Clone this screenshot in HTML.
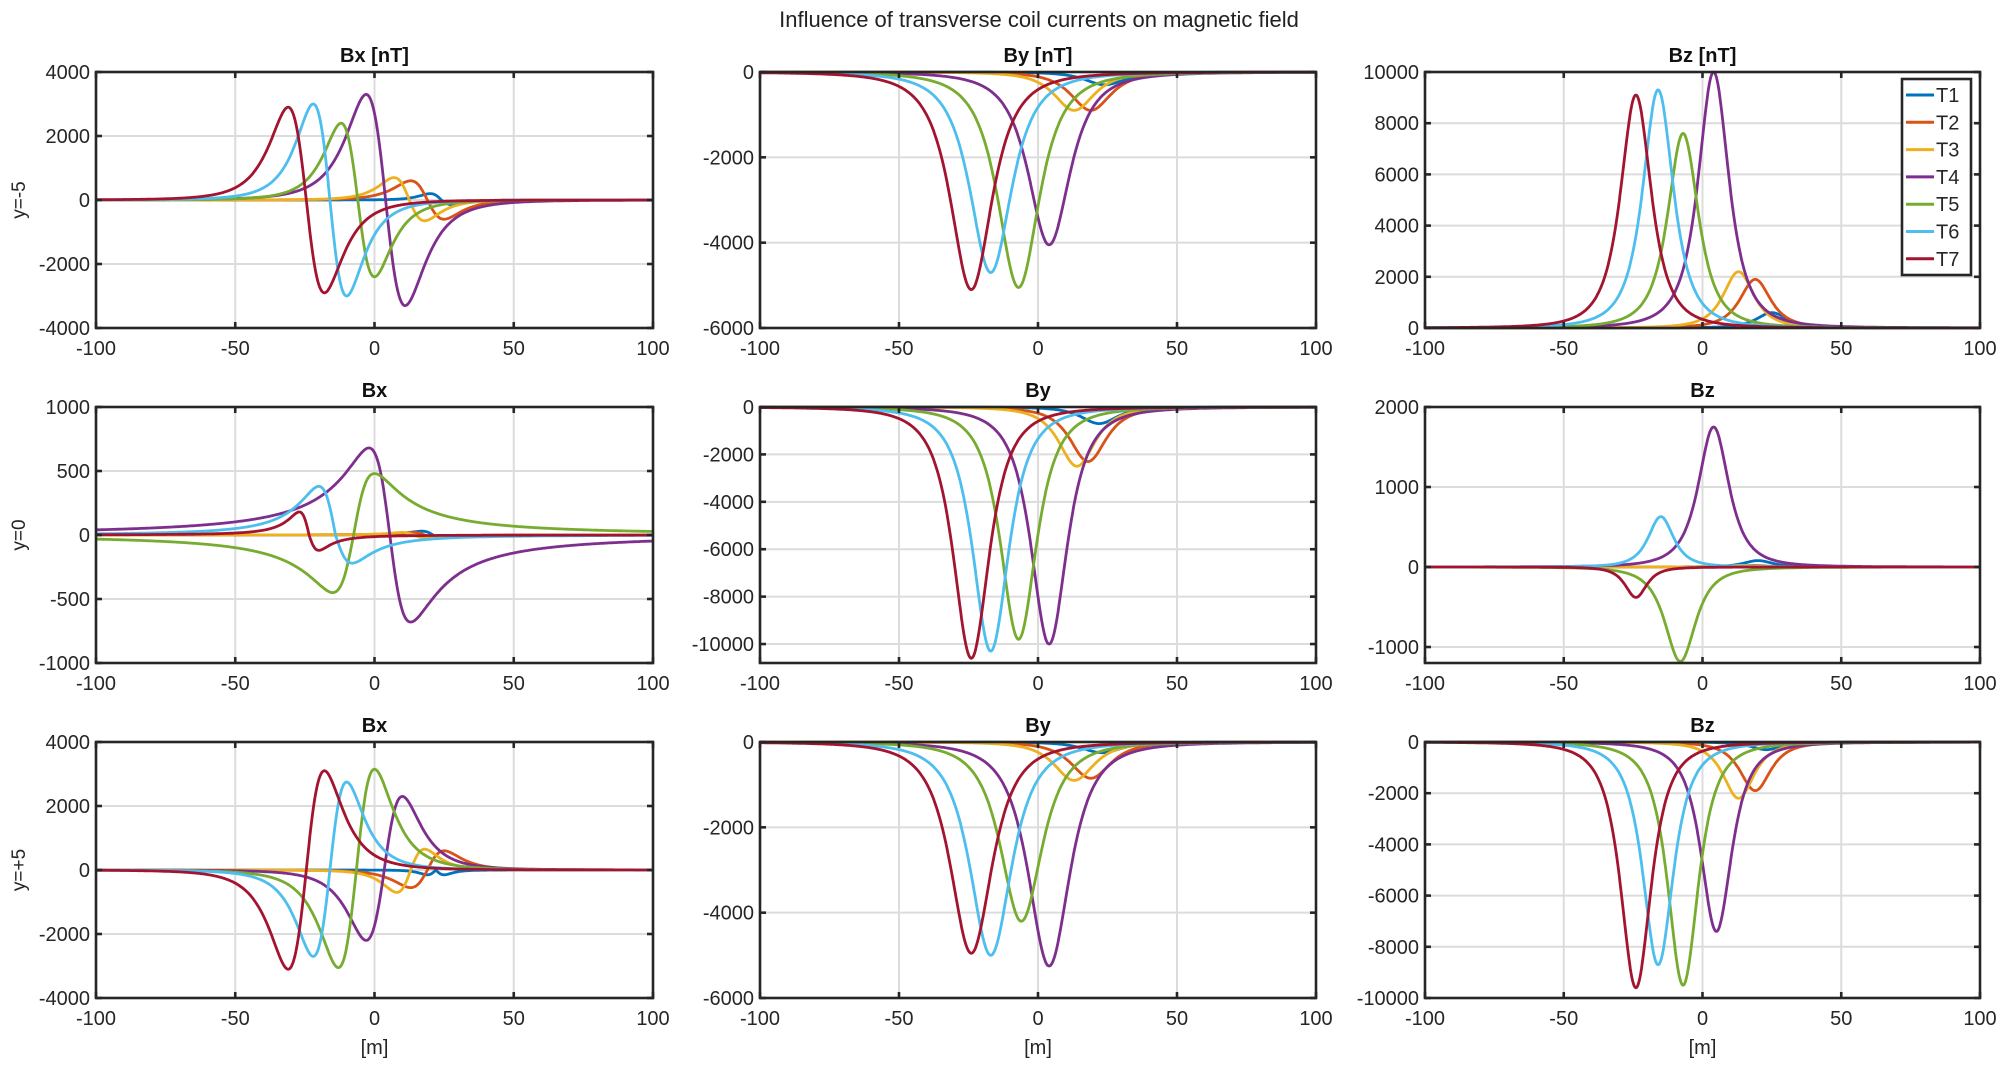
<!DOCTYPE html>
<html><head><meta charset="utf-8"><style>
html,body{margin:0;padding:0;background:#fff;}
svg{display:block;font-family:"Liberation Sans",Arial,sans-serif;}
</style></head><body>
<svg id="s" width="2007" height="1070" viewBox="0 0 2007 1070" xmlns="http://www.w3.org/2000/svg">
<rect width="2007" height="1070" fill="#fff"/>
<text x="1039" y="27" font-size="22" text-anchor="middle" fill="#222">Influence of transverse coil currents on magnetic field</text>
</svg>
<script>
const S=document.getElementById('s');const NS='http://www.w3.org/2000/svg';
function el(t,a,txt){const e=document.createElementNS(NS,t);for(const k in a)e.setAttribute(k,a[k]);if(txt!==undefined)e.textContent=txt;S.appendChild(e);return e;}
const C=['#0072BD','#D95319','#EDB120','#7E2F8E','#77AC30','#4DBEEE','#A2142F'];
const cols=[[96,653],[760,1316],[1425,1980]];
const rows=[[72,328],[407,663],[742,998]];
function anti(c,d,Ap,An,p){const ue=1/Math.sqrt(2*p-1);const m=ue/Math.pow(1+ue*ue,p);return x=>{const u=(x-c)/d*ue;const g=-u/Math.pow(1+u*u,p)/m;return g>0?g*Ap:g*An;};}
function bell(c,w,A){return x=>{const u=(x-c)/w;return A/Math.pow(1+u*u,1.5);};}
const Q=2.5;
const P=[
 {t:'Bx [nT]',y:[-4000,4000],tk:[4000,2000,0,-2000,-4000],f:[anti(24,4,200,150,Q),anti(19,6,600,600,Q),anti(12.5,5.5,700,650,Q),anti(4,7,3300,3300,Q),anti(-6,6,2400,2400,Q),anti(-16,6,3000,3000,Q),anti(-24.5,6.5,2900,2900,Q)]},
 {t:'By [nT]',y:[-6000,0],tk:[0,-2000,-4000,-6000],f:[bell(24,11,-300),bell(19,11,-900),bell(13,11,-900),bell(4,11.5,-4050),bell(-7,11.5,-5050),bell(-17,11.5,-4700),bell(-24,11.5,-5100)]},
 {t:'Bz [nT]',y:[0,10000],tk:[10000,8000,6000,4000,2000,0],f:[bell(25,8.5,600),bell(19,8.5,1900),bell(13,8.5,2200),bell(4,8.5,10000),bell(-7,8.5,7600),bell(-16,8.5,9300),bell(-24,8.5,9100)],leg:1},
 {t:'Bx',y:[-1000,1000],tk:[1000,500,0,-500,-1000],f:[anti(21,4,30,20,1.5),anti(18,4,20,20,1.5),anti(14,4,20,20,1.5),anti(5.5,7.5,680,680,1.25),anti(-7.5,7.5,-450,-480,1.25),anti(-14,6,380,220,1.5),anti(-23.5,3.5,180,120,1.5)]},
 {t:'By',y:[-10800,0],tk:[0,-2000,-4000,-6000,-8000,-10000],f:[bell(22,10,-700),bell(18,10,-2300),bell(14,10,-2500),bell(4,10,-10000),bell(-7,10,-9800),bell(-17,10,-10300),bell(-24,10,-10600)]},
 {t:'Bz',y:[-1200,2000],tk:[2000,1000,0,-1000],f:[bell(20,8,80),bell(18,8,20),bell(14,8,20),bell(4,8.5,1750),bell(-8,8.5,-1180),bell(-15,7,630),bell(-24,6,-380)]},
 {t:'Bx',y:[-4000,4000],tk:[4000,2000,0,-2000,-4000],f:[anti(22,3,-150,150,Q),anti(19,6,-550,-600,Q),anti(13,5,-700,-650,Q),anti(3.5,6.5,-2200,-2300,Q),anti(-6.5,6.5,-3050,-3150,Q),anti(-16,6,-2700,-2750,Q),anti(-24.5,6.5,-3100,-3100,Q)]},
 {t:'By',y:[-6000,0],tk:[0,-2000,-4000,-6000],f:[bell(23,11,-250),bell(19,11,-850),bell(13,11,-900),bell(4,11.5,-5250),bell(-6,11.5,-4200),bell(-17,11.5,-5000),bell(-24,11.5,-4950)]},
 {t:'Bz',y:[-10000,0],tk:[0,-2000,-4000,-6000,-8000,-10000],f:[bell(23,8.5,-300),bell(19,8.5,-1900),bell(13,8.5,-2200),bell(5,8.5,-7400),bell(-7,8.5,-9500),bell(-16,8.5,-8700),bell(-24,8.5,-9600)]}
];
const ylabels=['y=-5','y=0','y=+5'];
P.forEach((p,i)=>{
 const r=Math.floor(i/3),c=i%3;const [x0,x1]=cols[c],[y0,y1]=rows[r];
 const X=v=>x0+(v+100)/200*(x1-x0);const Y=v=>y1-(v-p.y[0])/(p.y[1]-p.y[0])*(y1-y0);
 [-50,0,50].forEach(v=>el('line',{x1:X(v),x2:X(v),y1:y0,y2:y1,stroke:'#dcdcdc','stroke-width':2}));
 p.tk.forEach(v=>{if(v!==p.y[0]&&v!==p.y[1])el('line',{x1:x0,x2:x1,y1:Y(v),y2:Y(v),stroke:'#dcdcdc','stroke-width':2});});
 p.f.forEach((f,k)=>{let d='';for(let xv=-100;xv<=100;xv+=0.25){let v=f(xv);v=Math.max(p.y[0],Math.min(p.y[1],v));d+=(d?'L':'M')+X(xv).toFixed(1)+' '+Y(v).toFixed(1);}
  el('path',{d:d,fill:'none',stroke:C[k],'stroke-width':2.8,'stroke-linejoin':'round'});});
 el('rect',{x:x0,y:y0,width:x1-x0,height:y1-y0,fill:'none',stroke:'#262626','stroke-width':2.6});
 [-100,-50,0,50,100].forEach(v=>{el('line',{x1:X(v),x2:X(v),y1:y1,y2:y1-6,stroke:'#262626','stroke-width':2.6});el('line',{x1:X(v),x2:X(v),y1:y0,y2:y0+6,stroke:'#262626','stroke-width':2.6});
  el('text',{x:X(v),y:y1+27,'font-size':20,'text-anchor':'middle',fill:'#262626'},String(v));});
 p.tk.forEach(v=>{el('line',{x1:x0,x2:x0+6,y1:Y(v),y2:Y(v),stroke:'#262626','stroke-width':2.6});el('line',{x1:x1,x2:x1-6,y1:Y(v),y2:Y(v),stroke:'#262626','stroke-width':2.6});
  el('text',{x:x0-6,y:Y(v)+7,'font-size':20,'text-anchor':'end',fill:'#262626'},String(v));});
 el('text',{x:(x0+x1)/2,y:y0-10,'font-size':20,'font-weight':'bold','text-anchor':'middle',fill:'#111'},p.t);
 if(c==0){const ty=(y0+y1)/2;el('text',{x:0,y:0,'font-size':19,'text-anchor':'middle',fill:'#262626',transform:`translate(25 ${ty}) rotate(-90)`},ylabels[r]);}
 if(r==2)el('text',{x:(x0+x1)/2,y:1054,'font-size':20,'text-anchor':'middle',fill:'#262626'},'[m]');
 if(p.leg){el('rect',{x:1902,y:79,width:69,height:196,fill:'#fff',stroke:'#262626','stroke-width':2.6});
  for(let k=0;k<7;k++){const yy=95+k*27.3;el('line',{x1:1906,x2:1934,y1:yy,y2:yy,stroke:C[k],'stroke-width':3});el('text',{x:1936,y:yy+7,'font-size':20,fill:'#262626'},'T'+(k+1));}}
});
</script>
</body></html>
